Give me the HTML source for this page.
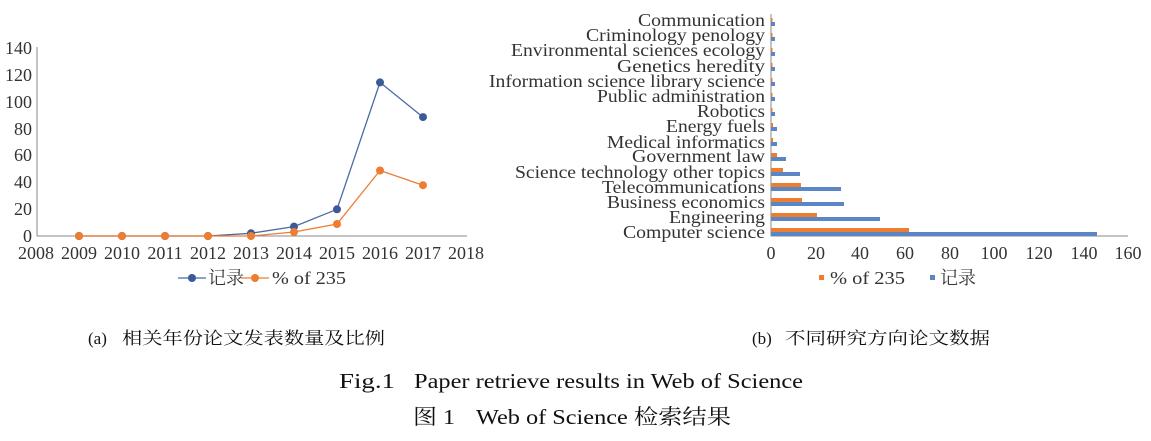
<!DOCTYPE html>
<html><head><meta charset="utf-8"><style>
html,body{margin:0;padding:0;background:#fff;}
svg{display:block;font-family:"Liberation Serif","Noto Serif CJK SC",serif;}
</style></head><body>
<svg width="1151" height="441" viewBox="0 0 1151 441" xmlns="http://www.w3.org/2000/svg">
<!-- Left chart -->
<g font-size="18" fill="#333">
<line x1="37" y1="47" x2="37" y2="236" stroke="#888" stroke-width="1"/>
<line x1="37" y1="236" x2="467" y2="236" stroke="#888" stroke-width="1"/>
<g text-anchor="end">
<text x="32" y="242">0</text>
<text x="32" y="215">20</text>
<text x="32" y="188">40</text>
<text x="32" y="161">60</text>
<text x="32" y="135">80</text>
<text x="32" y="108">100</text>
<text x="32" y="81">120</text>
<text x="32" y="54">140</text>
</g>
<g text-anchor="middle">
<text x="36" y="259">2008</text><text x="79" y="259">2009</text><text x="122" y="259">2010</text>
<text x="165" y="259">2011</text><text x="208" y="259">2012</text><text x="251" y="259">2013</text>
<text x="294" y="259">2014</text><text x="337" y="259">2015</text><text x="380" y="259">2016</text>
<text x="423" y="259">2017</text><text x="466" y="259">2018</text>
</g>
<polyline fill="none" stroke="#4a6aa5" stroke-width="1.3" points="79,236 122,236 165,236 208,236 251,233.3 294,226.6 337,209.3 380,82.4 423,117.1"/>
<g fill="#3b5a96">
<circle cx="79" cy="236" r="4"/><circle cx="122" cy="236" r="4"/><circle cx="165" cy="236" r="4"/><circle cx="208" cy="236" r="4"/>
<circle cx="251" cy="233.3" r="4"/><circle cx="294" cy="226.6" r="4"/><circle cx="337" cy="209.3" r="4"/><circle cx="380" cy="82.4" r="4"/><circle cx="423" cy="117.1" r="4"/>
</g>
<polyline fill="none" stroke="#ed7d31" stroke-width="1.3" points="79,236 122,236 165,236 208,236 251,236 294,232 337,224 380,170.5 423,185.2"/>
<g fill="#ed7d31">
<circle cx="79" cy="236" r="4"/><circle cx="122" cy="236" r="4"/><circle cx="165" cy="236" r="4"/><circle cx="208" cy="236" r="4"/>
<circle cx="251" cy="236" r="4"/><circle cx="294" cy="232" r="4"/><circle cx="337" cy="224" r="4"/><circle cx="380" cy="170.5" r="4"/><circle cx="423" cy="185.2" r="4"/>
</g>
<line x1="178" y1="278" x2="206" y2="278" stroke="#4a6aa5" stroke-width="1.3"/><circle cx="192" cy="278" r="4" fill="#3b5a96"/>
<text x="208" y="284">记录</text>
<line x1="241" y1="278" x2="269" y2="278" stroke="#ed7d31" stroke-width="1.3"/><circle cx="255" cy="278" r="4" fill="#ed7d31"/>
<text x="272" y="284" textLength="74" lengthAdjust="spacingAndGlyphs">% of 235</text>
</g>
<!-- Right chart -->
<g font-size="18" fill="#333">
<line x1="771" y1="14" x2="771" y2="236" stroke="#888"/>
<line x1="771" y1="236" x2="1128" y2="236" stroke="#888"/>
<g text-anchor="middle">
<text x="771" y="259">0</text><text x="816" y="259">20</text><text x="860" y="259">40</text><text x="905" y="259">60</text>
<text x="950" y="259">80</text><text x="994" y="259">100</text><text x="1039" y="259">120</text><text x="1084" y="259">140</text><text x="1128" y="259">160</text>
</g>
<g text-anchor="end">
<text x="765" y="26" textLength="127" lengthAdjust="spacingAndGlyphs">Communication</text>
<text x="765" y="41" textLength="179" lengthAdjust="spacingAndGlyphs">Criminology penology</text>
<text x="765" y="56" textLength="254" lengthAdjust="spacingAndGlyphs">Environmental sciences ecology</text>
<text x="765" y="72" textLength="148" lengthAdjust="spacingAndGlyphs">Genetics heredity</text>
<text x="765" y="87" textLength="276" lengthAdjust="spacingAndGlyphs">Information science library science</text>
<text x="765" y="102" textLength="168" lengthAdjust="spacingAndGlyphs">Public administration</text>
<text x="765" y="117" textLength="68" lengthAdjust="spacingAndGlyphs">Robotics</text>
<text x="765" y="132" textLength="99" lengthAdjust="spacingAndGlyphs">Energy fuels</text>
<text x="765" y="148" textLength="158" lengthAdjust="spacingAndGlyphs">Medical informatics</text>
<text x="765" y="162" textLength="133" lengthAdjust="spacingAndGlyphs">Government law</text>
<text x="765" y="178" textLength="250" lengthAdjust="spacingAndGlyphs">Science technology other topics</text>
<text x="765" y="193" textLength="163" lengthAdjust="spacingAndGlyphs">Telecommunications</text>
<text x="765" y="208" textLength="158" lengthAdjust="spacingAndGlyphs">Business economics</text>
<text x="765" y="223" textLength="96" lengthAdjust="spacingAndGlyphs">Engineering</text>
<text x="765" y="238" textLength="142" lengthAdjust="spacingAndGlyphs">Computer science</text>
</g>
<g fill="#ed7d31">
<rect x="771" y="228" width="138" height="4"/>
<rect x="771" y="213" width="46" height="4"/>
<rect x="771" y="198" width="31" height="4"/>
<rect x="771" y="183" width="30" height="4"/>
<rect x="771" y="168" width="12" height="4"/>
<rect x="771" y="153" width="6" height="4"/>
<rect x="771" y="138" width="2" height="4"/>
<rect x="771" y="123" width="2" height="4"/>
<rect x="771" y="108" width="1.5" height="4"/>
<rect x="771" y="93" width="1.5" height="4"/>
<rect x="771" y="78" width="1.5" height="4"/>
<rect x="771" y="63" width="1.5" height="4"/>
<rect x="771" y="48" width="1.5" height="4"/>
<rect x="771" y="33" width="1.5" height="4"/>
<rect x="771" y="18" width="1.5" height="4"/>
</g>
<g fill="#5b86c5">
<rect x="771" y="232" width="326" height="4"/>
<rect x="771" y="217" width="109" height="4"/>
<rect x="771" y="202" width="73" height="4"/>
<rect x="771" y="187" width="70" height="4"/>
<rect x="771" y="172" width="29" height="4"/>
<rect x="771" y="157" width="15" height="4"/>
<rect x="771" y="142" width="6" height="4"/>
<rect x="771" y="127" width="6" height="4"/>
<rect x="771" y="112" width="4" height="4"/>
<rect x="771" y="97" width="4" height="4"/>
<rect x="771" y="82" width="4" height="4"/>
<rect x="771" y="67" width="4" height="4"/>
<rect x="771" y="52" width="4" height="4"/>
<rect x="771" y="37" width="4" height="4"/>
<rect x="771" y="22" width="4" height="4"/>
</g>
<rect x="819" y="275" width="5" height="5" fill="#ed7d31"/>
<text x="830" y="284" textLength="75" lengthAdjust="spacingAndGlyphs">% of 235</text>
<rect x="930" y="275" width="5" height="5" fill="#5b86c5"/>
<text x="940" y="284">记录</text>
</g>
<!-- Captions -->
<g fill="#111" font-size="17">
<text x="88" y="344">(a)</text>
<text x="122" y="344" textLength="263" lengthAdjust="spacingAndGlyphs">相关年份论文发表数量及比例</text>
<text x="752" y="344">(b)</text>
<text x="785" y="344" textLength="205" lengthAdjust="spacingAndGlyphs">不同研究方向论文数据</text>
</g>
<g fill="#111" font-size="21">
<text x="339" y="388" textLength="56" lengthAdjust="spacingAndGlyphs">Fig.1</text>
<text x="414" y="388" textLength="389" lengthAdjust="spacingAndGlyphs">Paper retrieve results in Web of Science</text>
<text x="413" y="424" textLength="42" lengthAdjust="spacingAndGlyphs">图 1</text>
<text x="476" y="424" textLength="255" lengthAdjust="spacingAndGlyphs">Web of Science 检索结果</text>
</g>
</svg>
</body></html>
